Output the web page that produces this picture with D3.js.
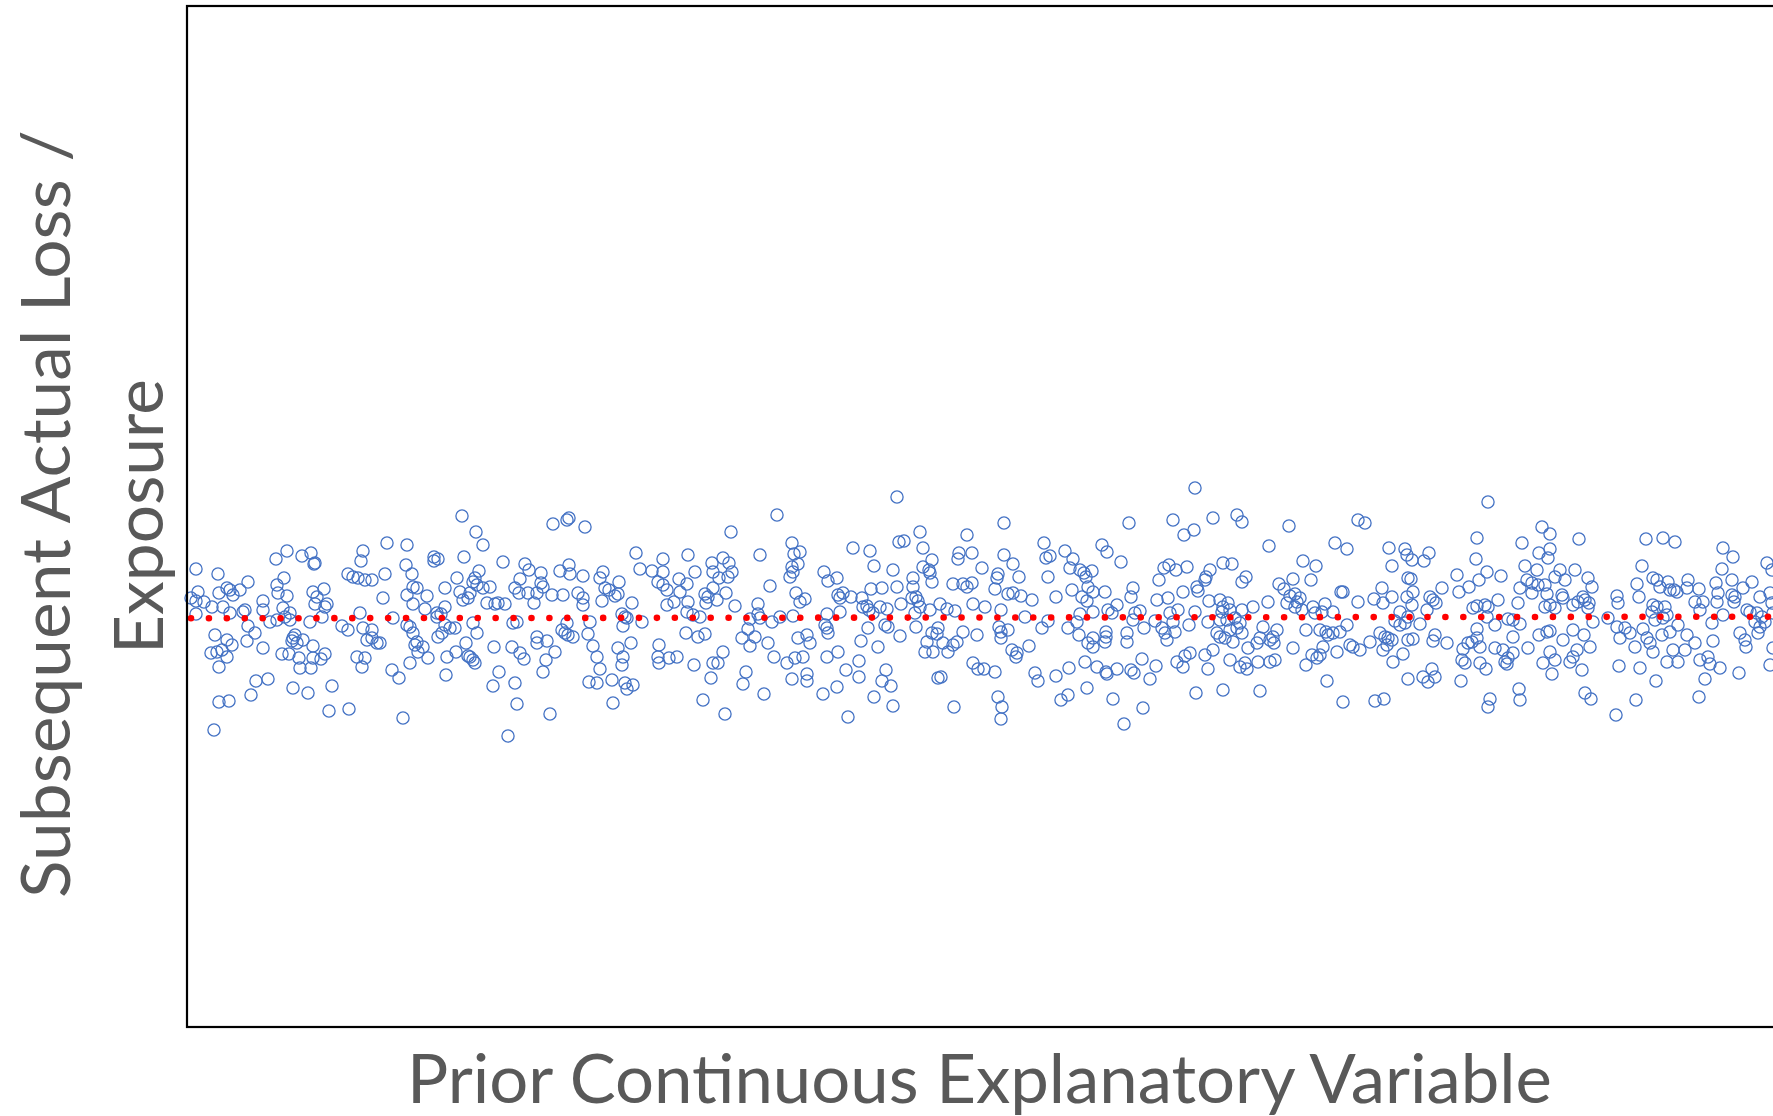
<!DOCTYPE html>
<html>
<head>
<meta charset="utf-8">
<script src="https://cdn.jsdelivr.net/npm/d3@7"></script>
<style>
  html, body { margin: 0; padding: 0; background: #fff; }
  svg { display: block; }
</style>
</head>
<body>
<svg id="chart" width="1773" height="1116"></svg>
<script>
// Observations: [prior explanatory value, subsequent loss per exposure], both in thousandths
const observations = [
[9,458],[31,453],[89,468],[100,476],[115,471],[124,474],[128,464],[127,463],[176,476],[174,466],[161,453],[166,450],[171,449],[178,447],[185,447],[4,429],[11,435],[9,426],[17,425],[25,420],[32,434],[40,439],[43,437],[46,432],[53,437],[61,445],[36,420],[43,414],[56,415],[58,417],[76,426],[76,417],[90,442],[97,449],[91,434],[100,431],[96,419],[103,414],[98,410],[126,435],[130,430],[137,438],[128,423],[140,423],[138,420],[135,410],[9,413],[83,405],[90,407],[103,407],[123,405],[61,401],[68,394],[60,386],[76,379],[28,392],[40,387],[45,382],[24,374],[30,375],[35,377],[40,370],[32,360],[108,392],[106,389],[110,384],[116,387],[105,386],[126,381],[95,373],[102,373],[112,369],[113,359],[124,359],[126,369],[134,368],[138,373],[155,401],[161,397],[173,414],[176,399],[185,397],[185,389],[180,387],[190,384],[170,370],[178,369],[175,360],[69,346],[81,348],[64,332],[106,339],[121,334],[145,341],[32,325],[42,326],[142,316],[162,318],[27,297],
[275,511],[366,503],[380,507],[382,509],[289,495],[296,482],[200,484],[220,482],[247,470],[251,468],[247,466],[277,470],[316,465],[338,463],[219,462],[198,453],[225,453],[226,440],[230,439],[220,432],[196,429],[270,449],[288,449],[292,456],[290,442],[296,439],[303,440],[286,445],[258,439],[273,435],[276,427],[281,429],[283,434],[240,431],[226,423],[238,418],[258,420],[250,414],[254,413],[250,410],[300,424],[308,423],[311,424],[318,423],[333,448],[342,457],[354,454],[354,444],[356,440],[328,439],[332,434],[341,434],[350,434],[347,424],[373,456],[382,462],[383,453],[365,432],[376,432],[391,434],[206,409],[220,402],[223,400],[226,394],[230,385],[228,382],[236,380],[231,375],[241,369],[223,364],[205,357],[212,349],[258,402],[263,399],[268,399],[255,394],[251,390],[286,404],[290,394],[279,384],[269,375],[260,370],[283,370],[286,367],[281,371],[288,364],[326,404],[330,405],[350,390],[350,384],[360,386],[368,375],[359,367],[356,355],[375,397],[378,394],[381,392],[386,390],[380,404],[307,380],[325,380],[333,374],[337,368],[312,355],[306,341],[328,344],[259,352],[330,323],[363,313],[216,309],[321,291],[193,384],
[398,500],[590,512],[544,495],[449,474],[476,468],[501,472],[573,472],[453,458],[465,456],[476,455],[508,455],[525,464],[536,469],[542,464],[545,455],[396,451],[413,449],[416,455],[432,445],[418,439],[422,437],[428,431],[431,433],[415,426],[396,429],[396,422],[471,445],[476,442],[480,437],[492,448],[500,443],[493,435],[480,422],[487,425],[518,433],[521,430],[526,439],[526,455],[532,449],[530,427],[539,434],[541,450],[548,421],[519,424],[501,425],[500,415],[506,412],[513,410],[445,424],[435,413],[438,410],[440,409],[436,401],[455,405],[583,441],[571,423],[571,413],[573,409],[563,408],[561,398],[568,390],[555,389],[563,381],[581,384],[587,370],[585,405],[593,410],[403,405],[401,393],[406,381],[410,370],[413,358],[402,345],[410,344],[425,347],[426,324],[431,379],[444,384],[436,370],[435,362],[438,344],[440,338],[446,342],[499,394],[511,390],[518,393],[472,382],[471,370],[472,364],[482,369],[490,370],[507,362],[526,364],[531,364],[536,375],[524,349],[516,327],[538,313],[577,333],[559,355],[556,343],
[710,530],[605,484],[613,475],[607,473],[666,479],[683,476],[687,461],[712,485],[717,486],[733,495],[736,479],[780,492],[772,474],[771,468],[785,474],[605,460],[611,463],[606,455],[603,450],[637,455],[641,446],[650,449],[706,457],[745,467],[736,460],[742,457],[743,454],[745,445],[726,449],[726,440],[609,434],[618,428],[613,425],[651,432],[653,429],[656,434],[664,430],[675,429],[684,438],[695,439],[710,440],[714,423],[725,429],[729,430],[731,426],[733,420],[728,414],[743,417],[753,423],[766,443],[776,443],[780,440],[785,444],[786,423],[768,416],[760,418],[676,420],[680,421],[682,417],[693,420],[700,418],[686,414],[640,413],[653,415],[606,411],[638,402],[641,394],[640,399],[681,399],[698,402],[701,400],[713,391],[729,400],[611,389],[620,392],[623,384],[674,386],[691,380],[745,394],[751,399],[750,393],[756,384],[740,385],[746,375],[738,375],[761,375],[766,382],[770,385],[776,395],[790,392],[600,364],[608,369],[616,370],[640,370],[651,375],[672,366],[659,357],[672,350],[605,348],[620,353],[620,346],[699,357],[695,346],[704,341],[751,349],[754,350],[786,364],[791,358],[636,333],[650,340],[687,330],[706,321],[661,310],[767,320],
[817,504],[942,504],[986,507],[857,484],[859,469],[863,471],[878,476],[886,468],[883,459],[915,482],[920,475],[934,465],[817,472],[826,463],[795,459],[811,453],[810,449],[832,450],[861,450],[893,457],[897,454],[905,456],[899,450],[808,438],[821,433],[826,434],[834,431],[845,427],[869,430],[885,437],[895,430],[900,426],[901,440],[906,435],[918,435],[798,420],[814,417],[838,410],[861,406],[855,399],[881,399],[921,417],[930,422],[925,414],[893,413],[890,405],[906,415],[946,439],[944,430],[948,414],[953,416],[946,407],[957,399],[972,447],[977,459],[982,462],[989,457],[970,427],[981,429],[983,414],[991,417],[968,406],[975,399],[978,394],[980,387],[986,405],[988,395],[812,400],[814,395],[821,397],[814,389],[825,377],[830,374],[829,370],[842,381],[892,392],[901,384],[906,380],[906,389],[919,395],[919,390],[918,385],[940,394],[940,385],[898,365],[910,360],[919,355],[920,353],[930,358],[944,357],[947,354],[955,368],[969,361],[963,348],[990,365],[797,358],[808,355],[848,354],[851,346],[869,351],[882,359],[900,339],[881,332],[874,327],[926,328],[811,330],[815,320],[814,308],[956,319],[937,303],
[1008,539],[1026,509],[1050,512],[1055,505],[1102,501],[1171,507],[1178,504],[1007,497],[997,492],[1082,481],[1148,484],[1160,478],[1000,460],[1023,457],[1019,450],[1018,447],[1036,464],[1045,463],[1059,450],[1055,445],[1116,466],[1129,461],[1124,447],[1106,448],[1092,443],[1097,438],[1010,440],[1011,436],[996,435],[1008,415],[1022,426],[1033,427],[1041,424],[1081,425],[1066,420],[1055,417],[1036,420],[1035,415],[1043,417],[1103,431],[1108,433],[1113,429],[1110,425],[1100,424],[1108,420],[1115,417],[1126,420],[1138,423],[1135,415],[1128,414],[1146,415],[1154,435],[1156,435],[1171,425],[1187,428],[1021,405],[1033,407],[1040,407],[1048,409],[1053,404],[1050,399],[1055,394],[1043,397],[1030,394],[1033,390],[1038,389],[1046,385],[1002,402],[1076,400],[1090,397],[1086,390],[1073,389],[1083,387],[1070,384],[1087,384],[1119,397],[1133,397],[1139,395],[1141,392],[1146,394],[1153,395],[1160,402],[1163,382],[1166,380],[1173,377],[1183,385],[1061,379],[1106,379],[1150,375],[1136,380],[1133,372],[1125,372],[1130,369],[1003,374],[998,371],[1018,372],[1026,377],[1043,367],[1053,360],[1058,364],[1060,358],[1071,365],[1088,367],[1083,365],[1119,362],[996,360],[1021,358],[1140,346],[1009,334],[1036,337],[1073,336],[1156,325],[1188,326],
[1301,525],[1290,489],[1335,484],[1355,500],[1363,493],[1392,488],[1202,479],[1218,478],[1220,472],[1225,467],[1237,466],[1242,474],[1205,461],[1289,468],[1352,474],[1363,478],[1361,469],[1221,449],[1224,448],[1226,435],[1220,430],[1205,430],[1195,439],[1196,424],[1270,452],[1300,455],[1292,447],[1314,451],[1282,440],[1272,435],[1243,430],[1246,427],[1249,424],[1255,439],[1240,417],[1311,427],[1298,422],[1301,420],[1286,419],[1290,421],[1300,410],[1308,402],[1321,408],[1326,407],[1333,403],[1331,424],[1338,461],[1350,457],[1340,447],[1345,444],[1351,442],[1358,442],[1368,450],[1373,457],[1378,447],[1333,439],[1345,434],[1360,433],[1375,432],[1388,457],[1358,420],[1363,422],[1368,419],[1376,429],[1386,422],[1391,425],[1213,415],[1225,422],[1221,410],[1218,404],[1213,402],[1208,406],[1233,403],[1193,394],[1198,390],[1201,389],[1205,387],[1200,382],[1196,377],[1206,365],[1216,373],[1221,387],[1226,388],[1248,392],[1246,386],[1260,384],[1290,398],[1290,389],[1293,380],[1281,384],[1285,385],[1276,378],[1326,390],[1308,379],[1316,377],[1321,369],[1318,365],[1320,363],[1326,374],[1341,379],[1352,392],[1360,395],[1363,396],[1376,387],[1363,375],[1368,367],[1356,364],[1365,353],[1386,397],[1386,370],[1390,377],[1383,365],[1275,367],[1278,364],[1293,364],[1299,358],[1274,346],[1221,348],[1236,350],[1241,345],[1245,358],[1248,350],[1332,338],[1333,327],[1303,328],[1301,320],[1197,328],
[1459,488],[1476,489],[1488,485],[1536,479],[1546,470],[1535,458],[1580,464],[1585,457],[1455,461],[1450,443],[1452,430],[1430,431],[1431,424],[1466,449],[1470,447],[1481,445],[1473,440],[1483,437],[1487,437],[1490,435],[1501,447],[1500,439],[1512,438],[1508,425],[1516,425],[1513,417],[1401,449],[1405,440],[1396,430],[1398,427],[1402,424],[1401,419],[1406,405],[1466,422],[1470,420],[1465,415],[1478,420],[1480,412],[1476,409],[1468,407],[1529,444],[1531,434],[1530,425],[1545,447],[1545,432],[1548,430],[1547,425],[1556,439],[1565,445],[1573,430],[1583,434],[1585,424],[1560,417],[1563,415],[1570,414],[1575,410],[1568,405],[1578,405],[1573,400],[1571,394],[1586,414],[1525,404],[1536,412],[1421,409],[1430,400],[1438,399],[1443,394],[1433,389],[1456,398],[1460,389],[1463,384],[1448,380],[1466,375],[1475,392],[1483,395],[1491,402],[1500,392],[1508,384],[1526,386],[1498,377],[1486,377],[1553,394],[1558,387],[1559,380],[1586,379],[1397,392],[1403,380],[1395,357],[1432,361],[1453,359],[1469,346],[1480,365],[1491,365],[1513,367],[1521,370],[1523,363],[1533,359],[1518,348],[1552,354],[1583,362],[1398,334],[1404,328],[1449,327],[1512,330],[1429,312]
];

// Fitted trend of loss per exposure against the prior variable (end points)
const trendLine = [[0.004, 0.4087], [1.586, 0.4103]];

// Axis titles
const xTitle = "Prior Continuous Explanatory Variable";
const yTitleLines = ["Subsequent Actual Loss /", "Exposure"];

const xDomain = [0, 1.588];
const yDomain = [0, 1.021];

const points = observations.map(([a, b]) => ({ x: a / 1000, y: b / 1000 }));

const svg = d3.select("#chart");
const plot = { left: 187, top: 6, right: 1775, bottom: 1027 };

const x = d3.scaleLinear().domain(xDomain).range([plot.left, plot.right]);
const y = d3.scaleLinear().domain(yDomain).range([plot.bottom, plot.top]);

// Scatter of hollow markers
svg.append("g")
  .selectAll("circle")
  .data(points)
  .join("circle")
  .attr("cx", d => x(d.x))
  .attr("cy", d => y(d.y))
  .attr("r", 6.1)
  .attr("fill", "none")
  .attr("stroke", "#4472C4")
  .attr("stroke-width", 1.3);

// Round-dotted trend line
const line = d3.line().x(d => x(d[0])).y(d => y(d[1]));
svg.append("path")
  .datum(trendLine)
  .attr("d", line)
  .attr("fill", "none")
  .attr("stroke", "#FF0000")
  .attr("stroke-width", 6.6)
  .attr("stroke-linecap", "round")
  .attr("stroke-dasharray", "0 17.92");

// Plot frame
svg.append("rect")
  .attr("x", plot.left)
  .attr("y", plot.top)
  .attr("width", plot.right - plot.left)
  .attr("height", plot.bottom - plot.top)
  .attr("fill", "none")
  .attr("stroke", "#000")
  .attr("stroke-width", 2.2);

const font = "Lato, 'Open Sans', sans-serif";

// X axis title
svg.append("text")
  .attr("x", 979.5)
  .attr("y", 1103)
  .attr("text-anchor", "middle")
  .attr("font-family", font)
  .attr("font-size", 67)
  .attr("fill", "#595959")
  .attr("textLength", 1145)
  .attr("lengthAdjust", "spacingAndGlyphs")
  .text(xTitle);

// Y axis title, two rotated lines
const yTitleSpec = [{ base: 70, center: 514, len: 768 }, { base: 163, center: 516.5, len: 275 }];
svg.append("g")
  .selectAll("text")
  .data(yTitleLines)
  .join("text")
  .attr("transform", (d, i) => `translate(${yTitleSpec[i].base},${yTitleSpec[i].center}) rotate(-90)`)
  .attr("text-anchor", "middle")
  .attr("font-family", font)
  .attr("font-size", 67)
  .attr("fill", "#595959")
  .attr("textLength", (d, i) => yTitleSpec[i].len)
  .attr("lengthAdjust", "spacingAndGlyphs")
  .text(d => d);
</script>
</body>
</html>
